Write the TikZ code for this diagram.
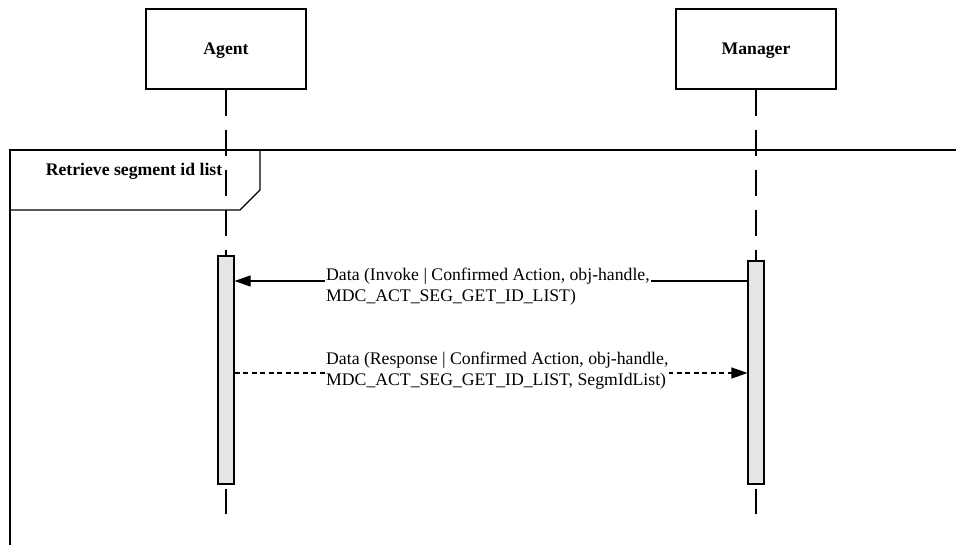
\documentclass[tikz,border=0pt]{standalone}
\usepackage{fontspec}
\setmainfont{Liberation Serif}
\usetikzlibrary{arrows.meta}
\usetikzlibrary{positioning}
\newcommand{\diagfont}{\fontsize{17.7pt}{21pt}\selectfont}
\tikzset{actor/.style = {draw, line width=1.2pt, minimum width=160pt, minimum height=80pt,
                         text depth=0pt, font=\diagfont\bfseries},
         bar/.style = {draw, line width=1.1pt, fill=black!10, minimum width=16pt, inner sep=0pt},
         life/.style = {line width=1.1pt, dash pattern=on 26pt off 14pt},
         call/.style = {line width=1.1pt, -{Triangle[length=16pt, width=11pt]}},
         reply/.style = {call, dash pattern=on 5pt off 3.5pt},
         msglabel/.style = {fill=white, align=left, inner sep=1pt, anchor=west, font=\diagfont}}

\begin{document}
\begin{tikzpicture}[x=1pt, y=-1pt]
    \useasboundingbox (0, 0) rectangle (956, 544);

    \node [actor] (agent) at (226, 49) {Agent};
    \node [actor] (manager) at (756, 49) {Manager};

    \draw [line width=1.4pt] (10, 560) -- (10, 150) -- (970, 150);
    \draw [line width=1.2pt] (10, 210) -- (240, 210) -- (260, 190) -- (260, 150);
    \node [font=\diagfont\bfseries] (frametitle) at (134, 171) {Retrieve segment id list};

    \node [bar, minimum height=228pt] (agentbar) at (226, 370) {};
    \node [bar, minimum height=223pt] (managerbar) at (756, 372.5) {};
    \coordinate (agentend) at (226, 514);
    \coordinate (managerend) at (756, 514);

    \draw [life] (agent.south) -- (agentbar.north);
    \draw [life] (manager.south) -- (managerbar.north);
    \draw [life, dash phase=36pt] (agentbar.south) -- (agentend);
    \draw [life, dash phase=36pt] (managerbar.south) -- (managerend);

    \coordinate (invoke) at (0, 281);
    \coordinate (response) at (0, 373);
    \draw [call] (managerbar.west |- invoke) -- (agentbar.east |- invoke);
    \node [msglabel] (invoketext) at (325, 287)
      {Data (Invoke | Confirmed Action, obj-handle,\\MDC\_ACT\_SEG\_GET\_ID\_LIST)};
    \draw [reply] (agentbar.east |- response) -- (managerbar.west |- response);
    \node [msglabel] (responsetext) at (325, 371)
      {Data (Response | Confirmed Action, obj-handle,\\MDC\_ACT\_SEG\_GET\_ID\_LIST, SegmIdList)};
  \end{tikzpicture}
\end{document}
